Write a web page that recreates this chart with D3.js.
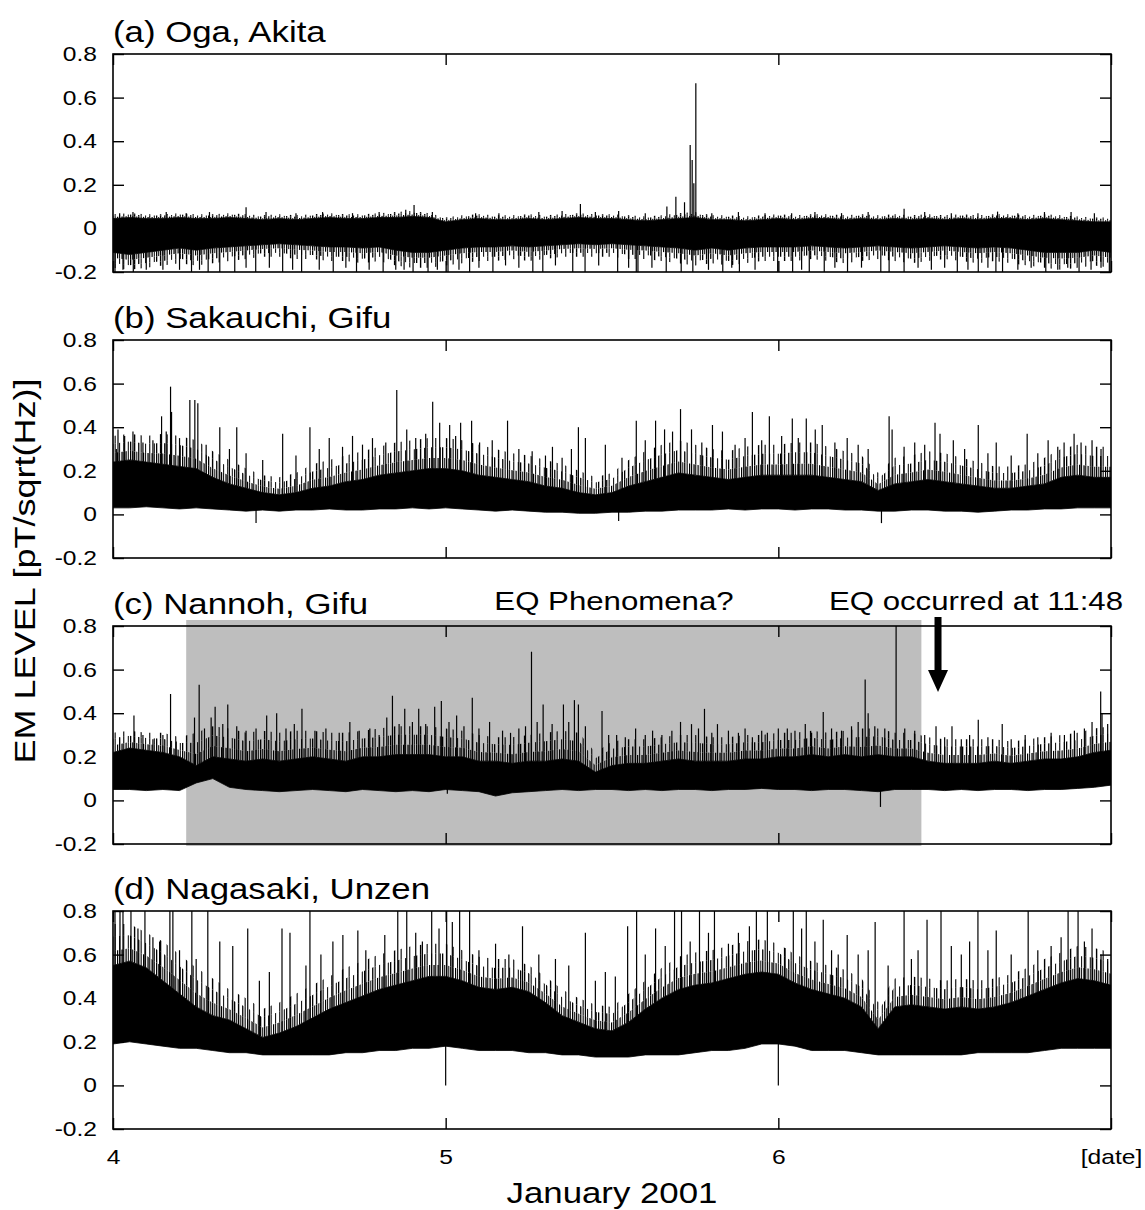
<!DOCTYPE html>
<head>
  <meta charset="utf-8">
  <script src="https://d3js.org/d3.v7.min.js"></script>
  <style>
    body {
      margin: 0;
      background: #fff;
      font-family: "Liberation Sans", Arial, sans-serif;
    }
    .frame {
      fill: none;
      stroke: #000;
      stroke-width: 1.6px;
    }
    .axis line {
      stroke: #000;
      stroke-width: 1.4px;
    }
    .axis path {
      display: none;
    }
    .axis text {
      fill: #000;
      font-family: "Liberation Sans", Arial, sans-serif;
    }
    .core {
      fill: #000;
      stroke: #000;
      stroke-width: 0.8px;
    }
    .spike {
      stroke: #000;
      stroke-width: 1.2px;
    }
  </style>
</head>

<body>
  <div id="vis"></div>
  <script>

    ////////// data //////////

    var titles = ["(a) Oga, Akita", "(b) Sakauchi, Gifu", "(c) Nannoh, Gifu", "(d) Nagasaki, Unzen"];
    var yTicks = [-0.2, 0, 0.2, 0.4, 0.6, 0.8];
    var yTickLabels = ["-0.2", "0", "0.2", "0.4", "0.6", "0.8"];
    var xTicks = [4, 5, 6, 7];
    var xTickLabels = ["4", "5", "6", "[date]"];

    // envelope sample days (every 0.05 day)
    var days = [
      4.00, 4.05, 4.10, 4.15, 4.20, 4.25, 4.30, 4.35, 4.40, 4.45,
      4.50, 4.55, 4.60, 4.65, 4.70, 4.75, 4.80, 4.85, 4.90, 4.95,
      5.00, 5.05, 5.10, 5.15, 5.20, 5.25, 5.30, 5.35, 5.40, 5.45,
      5.50, 5.55, 5.60, 5.65, 5.70, 5.75, 5.80, 5.85, 5.90, 5.95,
      6.00, 6.05, 6.10, 6.15, 6.20, 6.25, 6.30, 6.35, 6.40, 6.45,
      6.50, 6.55, 6.60, 6.65, 6.70, 6.75, 6.80, 6.85, 6.90, 6.95,
      7.00];

    // (a) Oga : solid core, dense hair above/below, isolated spikes
    var aHi = [
      0.045, 0.050, 0.045, 0.045, 0.050, 0.045, 0.045, 0.050, 0.045, 0.040,
      0.045, 0.040, 0.045, 0.050, 0.045, 0.045, 0.050, 0.050, 0.055, 0.050,
      0.030, 0.040, 0.045, 0.040, 0.040, 0.045, 0.040, 0.045, 0.050, 0.045,
      0.045, 0.040, 0.035, 0.040, 0.045, 0.050, 0.040, 0.040, 0.035, 0.040,
      0.045, 0.040, 0.045, 0.045, 0.040, 0.045, 0.040, 0.045, 0.040, 0.045,
      0.040, 0.045, 0.040, 0.045, 0.045, 0.040, 0.045, 0.040, 0.035, 0.030,
      0.030];
    var aLo = [
      -0.11, -0.12, -0.11, -0.10, -0.09, -0.10, -0.09, -0.085, -0.08, -0.075,
      -0.07, -0.075, -0.08, -0.085, -0.085, -0.09, -0.085, -0.10, -0.11, -0.11,
      -0.10, -0.09, -0.085, -0.085, -0.08, -0.085, -0.08, -0.075, -0.07, -0.075,
      -0.07, -0.075, -0.08, -0.085, -0.09, -0.10, -0.09, -0.10, -0.09, -0.085,
      -0.085, -0.085, -0.08, -0.085, -0.09, -0.085, -0.08, -0.085, -0.09, -0.085,
      -0.08, -0.085, -0.09, -0.085, -0.09, -0.10, -0.11, -0.11, -0.11, -0.10,
      -0.11];
    var aPkHi = [
      0.065, 0.070, 0.065, 0.065, 0.070, 0.065, 0.065, 0.070, 0.065, 0.060,
      0.065, 0.060, 0.065, 0.070, 0.065, 0.065, 0.070, 0.075, 0.080, 0.070,
      0.050, 0.060, 0.065, 0.060, 0.060, 0.065, 0.060, 0.065, 0.070, 0.065,
      0.065, 0.060, 0.055, 0.060, 0.070, 0.075, 0.060, 0.060, 0.055, 0.060,
      0.065, 0.060, 0.065, 0.065, 0.060, 0.065, 0.060, 0.065, 0.060, 0.065,
      0.060, 0.065, 0.060, 0.065, 0.065, 0.060, 0.065, 0.060, 0.055, 0.050,
      0.050];
    var aPkLo = [
      -0.18, -0.19, -0.18, -0.17, -0.16, -0.17, -0.16, -0.15, -0.14, -0.13,
      -0.13, -0.14, -0.14, -0.15, -0.15, -0.16, -0.15, -0.17, -0.18, -0.18,
      -0.17, -0.16, -0.15, -0.15, -0.14, -0.15, -0.14, -0.13, -0.13, -0.13,
      -0.13, -0.14, -0.14, -0.15, -0.16, -0.17, -0.16, -0.17, -0.16, -0.15,
      -0.15, -0.15, -0.14, -0.15, -0.16, -0.15, -0.14, -0.15, -0.16, -0.15,
      -0.14, -0.15, -0.16, -0.15, -0.16, -0.17, -0.18, -0.19, -0.18, -0.17,
      -0.18];
    var aUp = [[4.02, 0.07], [4.06, 0.075], [4.16, 0.075], [4.22, 0.07], [4.29, 0.075], [4.40, 0.097],
      [4.46, 0.075], [4.55, 0.07], [4.63, 0.075], [4.72, 0.07], [4.80, 0.075], [4.88, 0.085],
      [4.905, 0.107], [4.96, 0.075], [5.09, 0.07], [5.16, 0.07], [5.28, 0.075], [5.35, 0.08],
      [5.405, 0.112], [5.45, 0.075], [5.52, 0.08], [5.60, 0.07], [5.665, 0.10], [5.692, 0.145],
      [5.718, 0.12], [5.735, 0.383], [5.741, 0.314], [5.746, 0.207], [5.752, 0.666], [5.80, 0.07],
      [5.88, 0.075], [5.96, 0.07], [6.04, 0.07], [6.11, 0.075], [6.19, 0.07], [6.27, 0.075],
      [6.378, 0.09], [6.44, 0.075], [6.52, 0.07], [6.60, 0.07], [6.659, 0.077], [6.72, 0.07],
      [6.80, 0.075], [6.88, 0.075], [6.95, 0.07]];
    var aDown = [[4.006, -0.2], [4.03, -0.19], [4.061, -0.2], [4.10, -0.19], [4.15, -0.19], [4.20, -0.19],
      [4.236, -0.2], [4.26, -0.19], [4.286, -0.2], [4.321, -0.2], [4.366, -0.2], [4.40, -0.18],
      [4.429, -0.2], [4.47, -0.18], [4.51, -0.2], [4.54, -0.19], [4.567, -0.2], [4.62, -0.19],
      [4.662, -0.2], [4.70, -0.18], [4.732, -0.2], [4.77, -0.19], [4.812, -0.2], [4.85, -0.19],
      [4.875, -0.19], [4.902, -0.2], [4.947, -0.2], [4.975, -0.19], [5.007, -0.2], [5.04, -0.19],
      [5.072, -0.2], [5.10, -0.18], [5.142, -0.2], [5.18, -0.17], [5.22, -0.18], [5.262, -0.2],
      [5.292, -0.2], [5.33, -0.17], [5.382, -0.2], [5.419, -0.2], [5.46, -0.17], [5.517, -0.2],
      [5.55, -0.18], [5.573, -0.2], [5.578, -0.2], [5.62, -0.18], [5.663, -0.2], [5.708, -0.2],
      [5.743, -0.2], [5.79, -0.19], [5.833, -0.2], [5.86, -0.18], [5.883, -0.2], [5.93, -0.19],
      [5.998, -0.2], [6.043, -0.2], [6.07, -0.19], [6.093, -0.2], [6.138, -0.2], [6.17, -0.18],
      [6.208, -0.2], [6.25, -0.18], [6.308, -0.2], [6.333, -0.2], [6.378, -0.2], [6.42, -0.18],
      [6.46, -0.19], [6.50, -0.18], [6.538, -0.2], [6.57, -0.19], [6.601, -0.2], [6.63, -0.18],
      [6.654, -0.2], [6.674, -0.2], [6.72, -0.19], [6.76, -0.18], [6.804, -0.2], [6.84, -0.19],
      [6.87, -0.18], [6.904, -0.2], [6.94, -0.19], [6.97, -0.18], [6.995, -0.2]];

    // (b) Sakauchi
    var bHi = [
      0.24, 0.25, 0.24, 0.23, 0.22, 0.21, 0.17, 0.14, 0.12, 0.10,
      0.09, 0.10, 0.12, 0.13, 0.15, 0.16, 0.18, 0.19, 0.20, 0.21,
      0.21, 0.20, 0.18, 0.17, 0.16, 0.15, 0.13, 0.12, 0.10, 0.09,
      0.10, 0.13, 0.15, 0.17, 0.19, 0.18, 0.17, 0.16, 0.17, 0.18,
      0.18, 0.18, 0.18, 0.17, 0.16, 0.15, 0.11, 0.14, 0.15, 0.16,
      0.15, 0.14, 0.13, 0.12, 0.12, 0.13, 0.14, 0.17, 0.18, 0.17,
      0.17];
    var bLo = [
      0.030, 0.030, 0.035, 0.030, 0.025, 0.030, 0.025, 0.020, 0.015, 0.020,
      0.015, 0.020, 0.020, 0.025, 0.020, 0.020, 0.025, 0.025, 0.030, 0.025,
      0.030, 0.025, 0.020, 0.015, 0.020, 0.015, 0.010, 0.010, 0.005, 0.005,
      0.010, 0.010, 0.015, 0.015, 0.020, 0.020, 0.020, 0.025, 0.020, 0.025,
      0.025, 0.020, 0.025, 0.025, 0.020, 0.020, 0.015, 0.015, 0.020, 0.020,
      0.015, 0.015, 0.010, 0.015, 0.020, 0.020, 0.025, 0.025, 0.030, 0.030,
      0.030];
    var bPkHi = [
      0.36, 0.37, 0.36, 0.37, 0.36, 0.34, 0.29, 0.25, 0.21, 0.18,
      0.17, 0.19, 0.23, 0.25, 0.27, 0.29, 0.31, 0.33, 0.34, 0.35,
      0.35, 0.34, 0.32, 0.30, 0.28, 0.27, 0.25, 0.23, 0.20, 0.17,
      0.19, 0.25, 0.29, 0.32, 0.34, 0.32, 0.30, 0.29, 0.31, 0.32,
      0.32, 0.33, 0.33, 0.31, 0.29, 0.27, 0.19, 0.26, 0.27, 0.29,
      0.28, 0.26, 0.24, 0.22, 0.22, 0.23, 0.26, 0.30, 0.32, 0.31,
      0.31];
    var bUp = [[4.01, 0.30], [4.015, 0.39], [4.035, 0.36], [4.06, 0.38], [4.09, 0.33], [4.12, 0.34],
      [4.146, 0.45], [4.16, 0.38], [4.173, 0.586], [4.176, 0.47], [4.20, 0.35], [4.231, 0.525],
      [4.246, 0.525], [4.255, 0.51], [4.28, 0.32], [4.321, 0.40], [4.35, 0.30], [4.372, 0.40],
      [4.40, 0.28], [4.45, 0.25], [4.51, 0.37], [4.55, 0.27], [4.592, 0.40], [4.62, 0.30],
      [4.65, 0.35], [4.69, 0.31], [4.72, 0.36], [4.75, 0.32], [4.78, 0.35], [4.82, 0.33],
      [4.853, 0.571], [4.883, 0.39], [4.91, 0.35], [4.94, 0.37], [4.961, 0.517], [4.982, 0.42],
      [5.012, 0.41], [5.03, 0.36], [5.045, 0.42], [5.078, 0.43], [5.102, 0.33], [5.14, 0.34],
      [5.186, 0.43], [5.22, 0.30], [5.26, 0.29], [5.30, 0.27], [5.321, 0.31], [5.35, 0.26],
      [5.378, 0.30], [5.399, 0.40], [5.42, 0.35], [5.48, 0.32], [5.53, 0.26], [5.573, 0.43],
      [5.60, 0.34], [5.631, 0.43], [5.658, 0.39], [5.682, 0.38], [5.706, 0.483], [5.739, 0.39],
      [5.77, 0.33], [5.802, 0.41], [5.832, 0.38], [5.87, 0.32], [5.90, 0.35], [5.922, 0.47],
      [5.95, 0.34], [5.973, 0.45], [6.01, 0.36], [6.042, 0.44], [6.06, 0.35], [6.084, 0.44],
      [6.111, 0.39], [6.132, 0.41], [6.17, 0.33], [6.207, 0.35], [6.24, 0.32], [6.27, 0.30],
      [6.333, 0.45], [6.342, 0.39], [6.378, 0.31], [6.41, 0.33], [6.44, 0.32], [6.471, 0.42],
      [6.486, 0.37], [6.526, 0.34], [6.56, 0.30], [6.601, 0.41], [6.63, 0.28], [6.655, 0.33],
      [6.70, 0.27], [6.748, 0.37], [6.78, 0.28], [6.811, 0.34], [6.84, 0.31], [6.859, 0.33],
      [6.889, 0.37], [6.91, 0.33], [6.943, 0.34], [6.97, 0.30]];
    var bDown = [[4.43, -0.04], [5.52, -0.03], [6.31, -0.04]];

    // (c) Nannoh
    var cHi = [
      0.22, 0.24, 0.23, 0.22, 0.20, 0.16, 0.20, 0.19, 0.18, 0.19,
      0.18, 0.19, 0.20, 0.19, 0.18, 0.20, 0.20, 0.21, 0.21, 0.21,
      0.20, 0.20, 0.18, 0.18, 0.17, 0.18, 0.18, 0.19, 0.18, 0.13,
      0.16, 0.17, 0.17, 0.18, 0.19, 0.18, 0.18, 0.18, 0.19, 0.19,
      0.20, 0.20, 0.21, 0.20, 0.21, 0.20, 0.21, 0.20, 0.20, 0.18,
      0.17, 0.17, 0.17, 0.18, 0.17, 0.18, 0.19, 0.19, 0.20, 0.22,
      0.23];
    var cLo = [
      0.050, 0.050, 0.045, 0.050, 0.045, 0.080, 0.100, 0.060, 0.050, 0.045,
      0.040, 0.045, 0.050, 0.045, 0.040, 0.050, 0.045, 0.040, 0.045, 0.040,
      0.050, 0.045, 0.040, 0.020, 0.035, 0.040, 0.045, 0.050, 0.045, 0.050,
      0.050, 0.045, 0.050, 0.045, 0.050, 0.050, 0.045, 0.050, 0.050, 0.055,
      0.050, 0.050, 0.045, 0.050, 0.050, 0.045, 0.040, 0.050, 0.050, 0.050,
      0.045, 0.050, 0.045, 0.050, 0.050, 0.045, 0.050, 0.050, 0.055, 0.060,
      0.070];
    var cPkHi = [
      0.31, 0.32, 0.31, 0.31, 0.29, 0.31, 0.34, 0.33, 0.31, 0.32,
      0.31, 0.32, 0.32, 0.31, 0.31, 0.32, 0.33, 0.34, 0.34, 0.34,
      0.33, 0.32, 0.30, 0.29, 0.29, 0.30, 0.31, 0.32, 0.31, 0.22,
      0.27, 0.28, 0.28, 0.29, 0.30, 0.30, 0.29, 0.29, 0.30, 0.30,
      0.31, 0.31, 0.32, 0.31, 0.32, 0.33, 0.33, 0.31, 0.31, 0.29,
      0.28, 0.28, 0.28, 0.28, 0.27, 0.28, 0.29, 0.30, 0.31, 0.33,
      0.34];
    var cUp = [[4.02, 0.29], [4.063, 0.39], [4.09, 0.30], [4.12, 0.28], [4.15, 0.30], [4.173, 0.488],
      [4.19, 0.27], [4.245, 0.38], [4.259, 0.53], [4.275, 0.33], [4.295, 0.38], [4.307, 0.43],
      [4.33, 0.35], [4.345, 0.44], [4.372, 0.34], [4.40, 0.32], [4.43, 0.33], [4.462, 0.39],
      [4.492, 0.40], [4.52, 0.33], [4.545, 0.35], [4.568, 0.42], [4.607, 0.32], [4.64, 0.33],
      [4.68, 0.31], [4.712, 0.36], [4.74, 0.32], [4.772, 0.33], [4.80, 0.30], [4.823, 0.38],
      [4.84, 0.48], [4.86, 0.35], [4.877, 0.42], [4.90, 0.36], [4.919, 0.42], [4.94, 0.35],
      [4.967, 0.43], [4.987, 0.456], [5.01, 0.36], [5.033, 0.39], [5.055, 0.34], [5.08, 0.471],
      [5.10, 0.33], [5.132, 0.36], [5.171, 0.32], [5.195, 0.31], [5.22, 0.33], [5.24, 0.34],
      [5.258, 0.682], [5.275, 0.36], [5.293, 0.44], [5.32, 0.35], [5.354, 0.44], [5.37, 0.36],
      [5.387, 0.46], [5.399, 0.44], [5.42, 0.34], [5.47, 0.41], [5.49, 0.30], [5.514, 0.30],
      [5.54, 0.29], [5.571, 0.33], [5.60, 0.30], [5.622, 0.32], [5.65, 0.30], [5.68, 0.32],
      [5.706, 0.36], [5.739, 0.35], [5.76, 0.33], [5.778, 0.42], [5.80, 0.31], [5.817, 0.35],
      [5.85, 0.32], [5.88, 0.31], [5.90, 0.33], [5.922, 0.29], [5.95, 0.32], [5.967, 0.31],
      [6.00, 0.33], [6.027, 0.33], [6.05, 0.32], [6.081, 0.35], [6.10, 0.31], [6.135, 0.405],
      [6.16, 0.33], [6.19, 0.32], [6.22, 0.34], [6.24, 0.36], [6.261, 0.555], [6.270, 0.40],
      [6.29, 0.34], [6.32, 0.33], [6.354, 0.80], [6.38, 0.33], [6.41, 0.32], [6.44, 0.30],
      [6.474, 0.34], [6.50, 0.29], [6.522, 0.34], [6.55, 0.28], [6.575, 0.30], [6.601, 0.37],
      [6.63, 0.29], [6.673, 0.35], [6.70, 0.28], [6.742, 0.30], [6.78, 0.29], [6.82, 0.31],
      [6.86, 0.30], [6.89, 0.32], [6.92, 0.33], [6.943, 0.36], [6.969, 0.499], [6.973, 0.40],
      [6.99, 0.35]];
    var cDown = [[6.307, -0.03], [5.005, 0.03]];

    // (d) Nagasaki
    var dHi = [
      0.55, 0.57, 0.54, 0.48, 0.42, 0.36, 0.32, 0.30, 0.26, 0.22,
      0.24, 0.27, 0.31, 0.35, 0.38, 0.41, 0.44, 0.46, 0.48, 0.50,
      0.50, 0.48, 0.45, 0.44, 0.45, 0.43, 0.38, 0.32, 0.29, 0.26,
      0.25, 0.29, 0.35, 0.40, 0.44, 0.46, 0.47, 0.49, 0.51, 0.52,
      0.51, 0.47, 0.44, 0.42, 0.40, 0.36, 0.26, 0.36, 0.37, 0.36,
      0.35, 0.36, 0.35, 0.36, 0.38, 0.41, 0.44, 0.47, 0.49, 0.48,
      0.46];
    var dLo = [
      0.19, 0.20, 0.19, 0.18, 0.17, 0.17, 0.16, 0.15, 0.15, 0.14,
      0.14, 0.14, 0.14, 0.14, 0.15, 0.15, 0.16, 0.16, 0.17, 0.17,
      0.18, 0.17, 0.16, 0.16, 0.16, 0.15, 0.15, 0.14, 0.14, 0.13,
      0.13, 0.13, 0.14, 0.14, 0.14, 0.15, 0.16, 0.16, 0.17, 0.19,
      0.19, 0.18, 0.16, 0.16, 0.16, 0.15, 0.14, 0.14, 0.14, 0.14,
      0.14, 0.14, 0.15, 0.15, 0.15, 0.15, 0.16, 0.17, 0.17, 0.17,
      0.17];
    var dPkHi = [
      0.74, 0.74, 0.70, 0.66, 0.60, 0.54, 0.49, 0.44, 0.40, 0.35,
      0.38, 0.42, 0.46, 0.50, 0.54, 0.57, 0.60, 0.62, 0.64, 0.65,
      0.65, 0.62, 0.59, 0.58, 0.58, 0.55, 0.50, 0.44, 0.40, 0.37,
      0.36, 0.42, 0.48, 0.54, 0.59, 0.61, 0.62, 0.64, 0.66, 0.67,
      0.65, 0.60, 0.57, 0.55, 0.53, 0.49, 0.38, 0.49, 0.50, 0.49,
      0.48, 0.49, 0.48, 0.49, 0.51, 0.54, 0.58, 0.61, 0.64, 0.63,
      0.61];
    var dUp = [[4.006, 0.8], [4.021, 0.8], [4.030, 0.8], [4.054, 0.8], [4.075, 0.72], [4.096, 0.8],
      [4.12, 0.68], [4.14, 0.66], [4.171, 0.8], [4.180, 0.8], [4.20, 0.62], [4.237, 0.8],
      [4.25, 0.58], [4.285, 0.8], [4.321, 0.66], [4.36, 0.64], [4.405, 0.72], [4.44, 0.48],
      [4.47, 0.52], [4.508, 0.72], [4.532, 0.70], [4.58, 0.55], [4.592, 0.8], [4.625, 0.6],
      [4.661, 0.66], [4.691, 0.69], [4.736, 0.71], [4.76, 0.62], [4.817, 0.69], [4.856, 0.8],
      [4.883, 0.8], [4.91, 0.7], [4.93, 0.66], [4.958, 0.8], [4.98, 0.72], [5.003, 0.8],
      [5.02, 0.75], [5.042, 0.8], [5.072, 0.8], [5.10, 0.62], [5.15, 0.65], [5.19, 0.6],
      [5.231, 0.73], [5.28, 0.6], [5.33, 0.58], [5.37, 0.55], [5.42, 0.70], [5.45, 0.48],
      [5.48, 0.52], [5.51, 0.5], [5.547, 0.73], [5.574, 0.8], [5.60, 0.6], [5.631, 0.72],
      [5.66, 0.64], [5.688, 0.8], [5.709, 0.8], [5.735, 0.66], [5.763, 0.8], [5.79, 0.7],
      [5.808, 0.8], [5.85, 0.65], [5.88, 0.7], [5.913, 0.73], [5.934, 0.8], [5.967, 0.8],
      [6.02, 0.63], [6.045, 0.8], [6.07, 0.72], [6.084, 0.8], [6.11, 0.66], [6.135, 0.76],
      [6.16, 0.62], [6.18, 0.6], [6.207, 0.69], [6.24, 0.6], [6.27, 0.62], [6.291, 0.75],
      [6.33, 0.55], [6.378, 0.8], [6.40, 0.58], [6.42, 0.62], [6.447, 0.76], [6.489, 0.8],
      [6.52, 0.64], [6.55, 0.6], [6.575, 0.66], [6.60, 0.8], [6.63, 0.62], [6.655, 0.71],
      [6.70, 0.6], [6.751, 0.8], [6.78, 0.62], [6.82, 0.64], [6.85, 0.68], [6.871, 0.8],
      [6.901, 0.8], [6.92, 0.66], [6.943, 0.72], [6.97, 0.6], [6.99, 0.58]];
    var dDown = [[5.0, 0], [6.0, 0]];

    // shaded window and quake time in panel (c)
    var eqWindow = [4.22, 6.43];
    var eqDay = 6.48;

    ////////// layout //////////

    var W = 1145, H = 1210;
    var plotLeft = 113, plotRight = 1111, plotH = 218;
    var panelTop = [54, 340, 626, 911];
    var SX = 1.2; // glyphs in the figure are drawn a bit wide

    var panels = [
      { hi: aHi, lo: aLo, pkHi: aPkHi, pkLo: aPkLo, up: aUp, down: aDown },
      { hi: bHi, lo: bLo, pkHi: bPkHi, pkLo: bLo, up: bUp, down: bDown },
      { hi: cHi, lo: cLo, pkHi: cPkHi, pkLo: cLo, up: cUp, down: cDown },
      { hi: dHi, lo: dLo, pkHi: dPkHi, pkLo: dLo, up: dUp, down: dDown }
    ];

    var svg = d3.select("#vis")
      .append("svg")
      .attr("width", W)
      .attr("height", H);

    // hair textures for the spiky fringe: dense next to the core, sparse at the tips
    var hairs = [[0, 1.3], [2.2, 1], [3.9, 1.4], [6.3, 1], [8.1, 1.3], [10.6, 1.1],
      [13, 1.2], [15.1, 1], [17.4, 1.3], [19.2, 1.1], [21.5, 1.2], [23.8, 1]];
    var hairSets = {
      dense: [0, 1, 2, 3, 4, 5, 6, 7, 8, 9, 10, 11],
      mid: [0, 2, 4, 5, 7, 9, 11],
      sparse: [2, 5, 9]
    };
    var defs = svg.append("defs");
    Object.keys(hairSets).forEach(function (name) {
      var pat = defs.append("pattern")
        .attr("id", "hair-" + name)
        .attr("patternUnits", "userSpaceOnUse")
        .attr("width", 26)
        .attr("height", 20);
      hairSets[name].forEach(function (k) {
        pat.append("rect")
          .attr("x", hairs[k][0])
          .attr("y", 0)
          .attr("width", hairs[k][1])
          .attr("height", 20)
          .attr("fill", "#000");
      });
    });

    var x = d3.scaleLinear()
      .domain([4, 7])
      .range([plotLeft, plotRight]);

    panels.forEach(function (p, i) {
      var top = panelTop[i];
      var y = d3.scaleLinear()
        .domain([-0.2, 0.8])
        .range([top + plotH, top]);

      var g = svg.append("g").attr("class", "panel");

      // grey window in (c)
      if (i == 2) {
        g.append("rect")
          .attr("x", x(eqWindow[0]))
          .attr("y", top - 6)
          .attr("width", x(eqWindow[1]) - x(eqWindow[0]))
          .attr("height", plotH + 8)
          .attr("fill", "#bebebe");
      }

      svg.append("clipPath")
        .attr("id", "clip" + i)
        .append("rect")
        .attr("x", plotLeft)
        .attr("y", top)
        .attr("width", plotRight - plotLeft)
        .attr("height", plotH);

      var data = g.append("g").attr("clip-path", "url(#clip" + i + ")");

      // fringe split at fixed fractions of the way from core edge to spike tops
      var fringe = [["sparse", 0.7, 1], ["mid", 0.35, 0.7], ["dense", 0, 0.35]];
      fringe.forEach(function (f) {
        var upper = d3.area()
          .x(function (d) { return x(d); })
          .y0(function (d, k) { return y(p.hi[k] + f[1] * (p.pkHi[k] - p.hi[k])); })
          .y1(function (d, k) { return y(p.hi[k] + f[2] * (p.pkHi[k] - p.hi[k])); });
        var lower = d3.area()
          .x(function (d) { return x(d); })
          .y0(function (d, k) { return y(p.lo[k] + f[1] * (p.pkLo[k] - p.lo[k])); })
          .y1(function (d, k) { return y(p.lo[k] + f[2] * (p.pkLo[k] - p.lo[k])); });
        data.append("path").datum(days).attr("fill", "url(#hair-" + f[0] + ")").attr("d", upper);
        data.append("path").datum(days).attr("fill", "url(#hair-" + f[0] + ")").attr("d", lower);
      });

      var core = d3.area()
        .x(function (d) { return x(d); })
        .y0(function (d, k) { return y(p.lo[k]); })
        .y1(function (d, k) { return y(p.hi[k]); });

      data.append("path")
        .datum(days)
        .attr("class", "core")
        .attr("d", core);

      var hiAt = d3.scaleLinear().domain(days).range(p.hi);
      var loAt = d3.scaleLinear().domain(days).range(p.lo);

      data.selectAll(".up")
        .data(p.up)
        .enter()
        .append("line")
        .attr("class", "spike up")
        .attr("x1", function (d) { return x(d[0]); })
        .attr("x2", function (d) { return x(d[0]); })
        .attr("y1", function (d) { return y(hiAt(d[0]) - 0.02); })
        .attr("y2", function (d) { return y(d[1]); });

      data.selectAll(".down")
        .data(p.down)
        .enter()
        .append("line")
        .attr("class", "spike down")
        .attr("x1", function (d) { return x(d[0]); })
        .attr("x2", function (d) { return x(d[0]); })
        .attr("y1", function (d) { return y(loAt(d[0]) + 0.02); })
        .attr("y2", function (d) { return y(d[1]); });

      // axes, ticks pointing inward
      var left = g.append("g")
        .attr("class", "axis")
        .attr("transform", "translate(" + plotLeft + ",0)")
        .call(d3.axisLeft(y)
          .tickValues(yTicks)
          .tickFormat(function (d, k) { return yTickLabels[k]; })
          .tickSizeInner(-11)
          .tickSizeOuter(0)
          .tickPadding(16 / SX));
      left.selectAll("text")
        .attr("font-size", 20.5)
        .attr("transform", "scale(" + SX + ",1)");

      g.append("g")
        .attr("class", "axis")
        .attr("transform", "translate(" + plotRight + ",0)")
        .call(d3.axisRight(y).tickValues(yTicks).tickFormat("").tickSizeInner(-11).tickSizeOuter(0));

      g.append("g")
        .attr("class", "axis")
        .attr("transform", "translate(0," + top + ")")
        .call(d3.axisTop(x).tickValues(xTicks).tickFormat("").tickSizeInner(-11).tickSizeOuter(0));

      var bottom = g.append("g")
        .attr("class", "axis")
        .attr("transform", "translate(0," + (top + plotH) + ")")
        .call(d3.axisBottom(x)
          .tickValues(xTicks)
          .tickFormat(function (d, k) { return i == 3 ? xTickLabels[k] : ""; })
          .tickSizeInner(-11)
          .tickSizeOuter(0)
          .tickPadding(20));
      bottom.selectAll("text")
        .attr("font-size", 20.5)
        .attr("transform", "scale(" + SX + ",1)");

      g.append("rect")
        .attr("class", "frame")
        .attr("x", plotLeft)
        .attr("y", top)
        .attr("width", plotRight - plotLeft)
        .attr("height", plotH);

      g.append("text")
        .attr("transform", "translate(" + plotLeft + "," + (top - 12) + ") scale(" + SX + ",1)")
        .attr("font-size", 29)
        .text(titles[i]);

      // annotations over (c)
      if (i == 2) {
        g.append("text")
          .attr("transform", "translate(614," + (top - 16) + ") scale(" + SX + ",1)")
          .attr("text-anchor", "middle")
          .attr("font-size", 26)
          .text("EQ Phenomena?");
        g.append("text")
          .attr("transform", "translate(976," + (top - 16) + ") scale(" + SX + ",1)")
          .attr("text-anchor", "middle")
          .attr("font-size", 26)
          .text("EQ occurred at 11:48");

        var ax = x(eqDay);
        g.append("path")
          .attr("d", "M" + (ax - 3.5) + "," + (top - 9) +
            "L" + (ax + 3.5) + "," + (top - 9) +
            "L" + (ax + 3.5) + "," + (top + 44) +
            "L" + (ax + 10) + "," + (top + 44) +
            "L" + ax + "," + (top + 66) +
            "L" + (ax - 10) + "," + (top + 44) +
            "L" + (ax - 3.5) + "," + (top + 44) + "Z")
          .attr("fill", "#000");
      }
    });

    svg.append("text")
      .attr("transform", "translate(" + ((plotLeft + plotRight) / 2) + ",1203) scale(" + SX + ",1)")
      .attr("text-anchor", "middle")
      .attr("font-size", 29)
      .text("January 2001");

    svg.append("text")
      .attr("transform", "translate(35,571) rotate(-90)")
      .attr("text-anchor", "middle")
      .attr("font-size", 30)
      .attr("textLength", 385)
      .attr("lengthAdjust", "spacingAndGlyphs")
      .text("EM LEVEL  [pT/sqrt(Hz)]");

  </script>
</body>
